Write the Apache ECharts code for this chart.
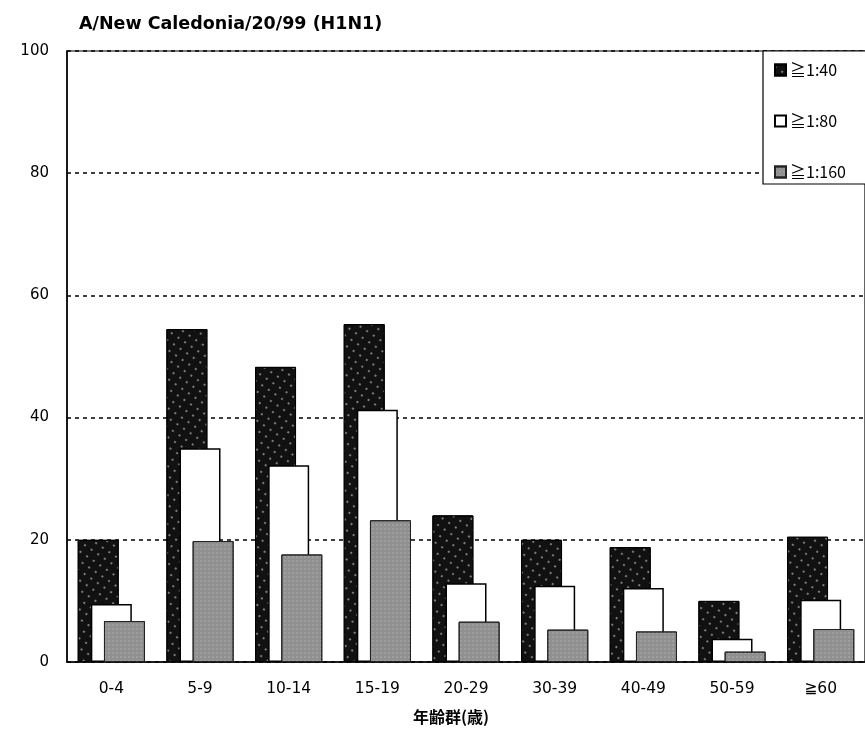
<!DOCTYPE html>
<html>
<head>
<meta charset="utf-8">
<script src="https://cdn.jsdelivr.net/npm/echarts@6/dist/echarts.min.js"></script>
<style>html,body{margin:0;padding:0;background:#fff}#c{width:865px;height:741px}</style>
</head>
<body>
<div id="c"></div>
<script>
const categories = ['0-4','5-9','10-14','15-19','20-29','30-39','40-49','50-59','≧60'];
const s40  = [20.0, 54.5, 48.3, 55.3, 24.0, 20.0, 18.8, 10.0, 20.5];
const s80  = [9.5, 35.0, 32.2, 41.3, 12.9, 12.5, 12.1, 3.8, 10.2];
const s160 = [6.7, 19.8, 17.6, 23.2, 6.6, 5.3, 5.0, 1.7, 5.4];
const yTicks = [0, 20, 40, 60, 80, 100];
const seriesNames = ['≧1:40', '≧1:80', '≧1:160'];

const font = '"DejaVu Sans", "Noto Sans CJK JP", sans-serif';
const cjk = '"Noto Sans CJK JP", sans-serif';
const chart = echarts.init(document.getElementById('c'), null, {renderer: 'canvas'});
chart.setOption({
  animation: false,
  backgroundColor: '#fff',
  title: {
    text: 'A/New Caledonia/20/99 (H1N1)',
    left: 74, top: 11,
    textStyle: {fontFamily: font, fontSize: 17.5, fontWeight: 'bold', color: '#000'}
  },
  legend: {
    orient: 'vertical',
    left: 763, top: 51,
    padding: [11, 40, 4, 11],
    itemGap: 35,
    itemWidth: 11, itemHeight: 11,
    backgroundColor: '#fff',
    borderColor: '#000', borderWidth: 1.2, borderRadius: 0,
    icon: 'rect',
    textStyle: {fontFamily: cjk, fontSize: 16, color: '#000', padding: [0,0,0,-1]},
    data: seriesNames
  },
  grid: {
    left: 67, right: -3, top: 51, bottom: 79,
    show: true, borderColor: '#000', borderWidth: 1.2
  },
  xAxis: {
    type: 'category',
    data: categories,
    axisLine: {lineStyle: {color: '#000', width: 1.5}},
    axisTick: {inside: true, length: 6, lineStyle: {color: '#000'}},
    axisLabel: {fontFamily: font, fontSize: 15.5, color: '#000', margin: 19},
    name: '年齢群(歳)',
    nameLocation: 'middle',
    nameGap: 47,
    nameTextStyle: {fontFamily: cjk, fontSize: 16, fontWeight: 'bold', color: '#000', padding: [0, 30, 0, 0]}
  },
  yAxis: {
    type: 'value',
    min: 0, max: 100, interval: 20,
    axisLine: {show: true, lineStyle: {color: '#000', width: 1.5}},
    axisTick: {show: false},
    axisLabel: {fontFamily: font, fontSize: 15, color: '#000', margin: 18,
      formatter: v => yTicks.includes(v) ? String(v) : ''},
    splitLine: {show: true, lineStyle: {color: '#000', type: [4, 4], width: 1.5}}
  },
  series: [
    {
      name: seriesNames[0], type: 'bar', data: s40,
      barWidth: 41, barGap: '-68%', barCategoryGap: '20%',
      itemStyle: {
        color: '#111', borderColor: '#000', borderWidth: 1,
        decal: {symbol: 'circle', symbolSize: 0.55, color: 'rgba(180,180,180,0.8)', dashArrayX: [4, 4], dashArrayY: [4, 4], rotation: 0.6}
      }
    },
    {
      name: seriesNames[1], type: 'bar', data: s80,
      barWidth: 41, barGap: '-68%',
      itemStyle: {color: '#fff', borderColor: '#000', borderWidth: 1.5}
    },
    {
      name: seriesNames[2], type: 'bar', data: s160,
      barWidth: 41, barGap: '-68%',
      itemStyle: {
        color: '#909090', borderColor: '#222', borderWidth: 1,
        decal: {symbol: 'rect', symbolSize: 0.6, color: 'rgba(225,225,225,0.6)', dashArrayX: [2, 2], dashArrayY: [2, 2], rotation: 0}
      }
    }
  ]
});
</script>
</body>
</html>
